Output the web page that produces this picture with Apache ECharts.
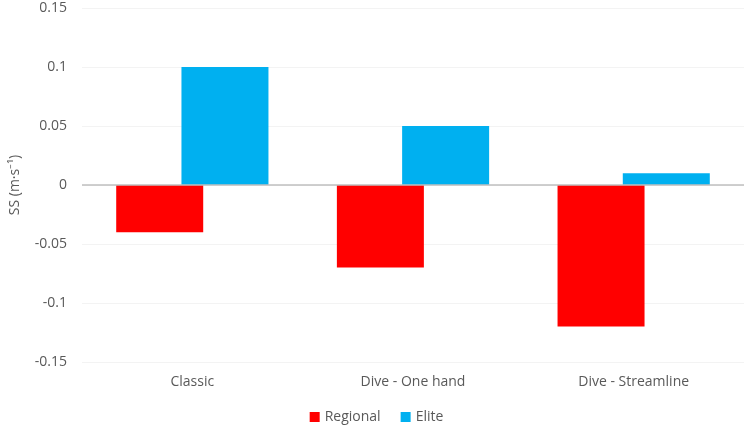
<!DOCTYPE html>
<html><head><meta charset="utf-8">
<script src="https://cdn.jsdelivr.net/npm/echarts@6/dist/echarts.min.js"></script>
<style>html,body{margin:0;padding:0;background:#fff}#c{width:753px;height:433px}</style>
</head><body><div id="c"></div>
<script>
const categories = ['Classic', 'Dive - One hand', 'Dive - Streamline'];
const regional = [-0.04, -0.07, -0.12];
const elite = [0.1, 0.05, 0.01];
const yTicks = [-0.15, -0.1, -0.05, 0, 0.05, 0.1, 0.15];

const chart = echarts.init(document.getElementById('c'));
const font = '"Open Sans", "Liberation Sans", sans-serif';
chart.setOption({
  animation: false,
  textStyle: { fontFamily: font },
  grid: { left: 78, right: 9, top: 8, bottom: 71 },
  legend: {
    bottom: 4, left: 'center', itemWidth: 10, itemHeight: 10, itemGap: 20,
    icon: 'rect',
    textStyle: { color: '#595959', fontSize: 14, fontFamily: font },
    data: ['Regional', 'Elite']
  },
  xAxis: {
    type: 'category', data: categories, position: 'bottom',
    axisLine: { show: false }, axisTick: { show: false },
    axisLabel: { color: '#595959', fontSize: 14, margin: 13, fontFamily: font }
  },
  yAxis: {
    type: 'value', min: -0.15, max: 0.15, interval: 0.05,
    name: 'SS (m·s⁻¹)', nameLocation: 'middle', nameGap: 60, nameRotate: 90,
    nameTextStyle: { color: '#595959', fontSize: 14, fontFamily: font },
    axisLabel: { color: '#595959', fontSize: 14, margin: 15, fontFamily: font,
      formatter: v => String(Math.round(v * 100) / 100) },
    splitLine: { lineStyle: { color: '#f3f3f3' } },
    axisLine: { show: false }, axisTick: { show: false }
  },
  series: [
    { name: 'Regional', type: 'bar', data: regional, barWidth: 87, barGap: '-25%',
      itemStyle: { color: '#ff0000' } },
    { name: 'Elite', type: 'bar', data: elite, barWidth: 87,
      itemStyle: { color: '#00b0f0' },
      markLine: { silent: true, symbol: 'none', label: { show: false },
        lineStyle: { color: '#bfbfbf', type: 'solid', width: 1.5 },
        data: [{ yAxis: 0 }] } }
  ]
});
</script></body></html>
